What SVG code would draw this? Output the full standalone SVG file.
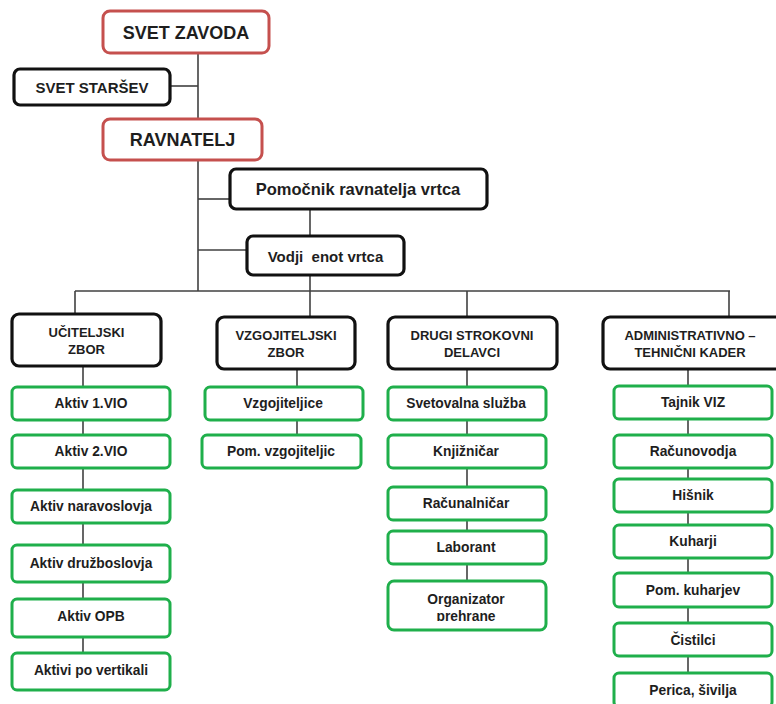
<svg xmlns="http://www.w3.org/2000/svg" width="776" height="704" viewBox="0 0 776 704">
<style>
text{font-family:"Liberation Sans",Arial,sans-serif;font-weight:bold;fill:#1e1e1e;text-anchor:middle}
.red{fill:#fff;stroke:#c5504e;stroke-width:3}
.blk{fill:#fff;stroke:#111;stroke-width:3.2}
.grn{fill:#fff;stroke:#1faf4b;stroke-width:3}
.t18{font-size:18px}
.t16{font-size:16.5px}
.t15{font-size:15px}
.t13{font-size:13px}
.g{font-size:13.8px}
#conn line{stroke:#404040;stroke-width:1.6}
</style>
<defs>
<clipPath id="clipOrg"><rect x="389" y="582" width="156" height="39"/></clipPath>
</defs>
<rect width="776" height="704" fill="#fff"/>
<g id="conn">
<line x1="198" y1="53" x2="198" y2="291"/>
<line x1="170" y1="86" x2="198" y2="86"/>
<line x1="198" y1="199" x2="230" y2="199"/>
<line x1="198" y1="250" x2="247" y2="250"/>
<line x1="310" y1="209" x2="310" y2="236"/>
<line x1="310" y1="275" x2="310" y2="291"/>
<line x1="75" y1="291" x2="730" y2="291"/>
<line x1="75" y1="291" x2="75" y2="314"/>
<line x1="310" y1="291" x2="310" y2="317"/>
<line x1="467" y1="291" x2="467" y2="317"/>
<line x1="729" y1="291" x2="729" y2="317"/>
<line x1="83" y1="366" x2="83" y2="652"/>
<line x1="297" y1="369" x2="297" y2="435"/>
<line x1="467" y1="369" x2="467" y2="581"/>
<line x1="688" y1="369" x2="688" y2="673"/>
</g>
<g id="svet-zavoda"><rect class="red" x="103" y="11" width="166" height="42" rx="7"/><text class="t18" x="186" y="38.5">SVET ZAVODA</text></g>
<g id="svet-starsev"><rect class="blk" x="14" y="69" width="156" height="36" rx="6"/><text class="t15" x="92" y="92.5">SVET STARŠEV</text></g>
<g id="ravnatelj"><rect class="red" x="103" y="119" width="159" height="41" rx="7"/><text class="t18" x="182.5" y="145.5">RAVNATELJ</text></g>
<g id="pomocnik"><rect class="blk" x="230" y="169" width="257" height="40" rx="6"/><text class="t16" x="358" y="195">Pomočnik ravnatelja vrtca</text></g>
<g id="vodji"><rect class="blk" x="247" y="236" width="157" height="39" rx="6"/><text class="t15" x="325.5" y="261.5" xml:space="preserve">Vodji  enot vrtca</text></g>
<g id="uciteljski"><rect class="blk" x="12" y="314" width="149" height="52" rx="7"/><text class="t13" x="86.5" y="336.5">UČITELJSKI</text><text class="t13" x="86.5" y="353.5">ZBOR</text></g>
<g id="vzgojiteljski"><rect class="blk" x="217" y="317" width="138" height="52" rx="7"/><text class="t13" x="286" y="339.5">VZGOJITELJSKI</text><text class="t13" x="286" y="356.5">ZBOR</text></g>
<g id="drugi"><rect class="blk" x="388" y="317" width="169" height="52" rx="7"/><text class="t13" x="472" y="339.5">DRUGI STROKOVNI</text><text class="t13" x="472" y="356.5">DELAVCI</text></g>
<g id="administrativno"><rect class="blk" x="603" y="317" width="180" height="52" rx="7"/><text class="t13" x="690" y="339.5">ADMINISTRATIVNO –</text><text class="t13" x="690" y="356.5">TEHNIČNI KADER</text></g>
<g id="aktiv1"><rect class="grn" x="12" y="387" width="158" height="33" rx="5"/><text class="g" x="91" y="408">Aktiv 1.VIO</text></g>
<g id="aktiv2"><rect class="grn" x="12" y="435" width="158" height="33" rx="5"/><text class="g" x="91" y="456">Aktiv 2.VIO</text></g>
<g id="aktiv-nar"><rect class="grn" x="12" y="490" width="158" height="33" rx="5"/><text class="g" x="91" y="511">Aktiv naravoslovja</text></g>
<g id="aktiv-druz"><rect class="grn" x="12" y="545" width="158" height="37" rx="5"/><text class="g" x="91" y="568">Aktiv družboslovja</text></g>
<g id="aktiv-opb"><rect class="grn" x="12" y="599" width="158" height="38" rx="5"/><text class="g" x="91" y="621">Aktiv OPB</text></g>
<g id="aktivi-vert"><rect class="grn" x="12" y="653" width="158" height="37" rx="5"/><text class="g" x="91" y="675">Aktivi po vertikali</text></g>
<g id="vzgojiteljice"><rect class="grn" x="205" y="387" width="158" height="33" rx="5"/><text class="g" x="283" y="408">Vzgojiteljice</text></g>
<g id="pom-vzg"><rect class="grn" x="202" y="435" width="159" height="33" rx="5"/><text class="g" x="281" y="456">Pom. vzgojiteljic</text></g>
<g id="svetovalna"><rect class="grn" x="388" y="387" width="158" height="33" rx="5"/><text class="g" x="466" y="408">Svetovalna služba</text></g>
<g id="knjiznicar"><rect class="grn" x="388" y="435" width="158" height="33" rx="5"/><text class="g" x="466" y="456">Knjižničar</text></g>
<g id="racunalnicar"><rect class="grn" x="388" y="487" width="158" height="33" rx="5"/><text class="g" x="466" y="508">Računalničar</text></g>
<g id="laborant"><rect class="grn" x="388" y="531" width="158" height="33" rx="5"/><text class="g" x="466" y="552">Laborant</text></g>
<g id="organizator"><rect class="grn" x="388" y="581" width="158" height="49" rx="6"/><g clip-path="url(#clipOrg)"><text class="g" x="466" y="604">Organizator</text><text class="g" x="466" y="621">prehrane</text></g></g>
<g id="tajnik"><rect class="grn" x="614" y="386" width="158" height="33" rx="5"/><text class="g" x="693" y="407">Tajnik VIZ</text></g>
<g id="racunovodja"><rect class="grn" x="614" y="435" width="158" height="33" rx="5"/><text class="g" x="693" y="456">Računovodja</text></g>
<g id="hisnik"><rect class="grn" x="614" y="479" width="158" height="33" rx="5"/><text class="g" x="693" y="500">Hišnik</text></g>
<g id="kuharji"><rect class="grn" x="614" y="525" width="158" height="33" rx="5"/><text class="g" x="693" y="546">Kuharji</text></g>
<g id="pom-kuharjev"><rect class="grn" x="614" y="573" width="158" height="34" rx="5"/><text class="g" x="693" y="595">Pom. kuharjev</text></g>
<g id="cistilci"><rect class="grn" x="614" y="623" width="158" height="33" rx="5"/><text class="g" x="693" y="645">Čistilci</text></g>
<g id="perica"><rect class="grn" x="614" y="673" width="158" height="34" rx="5"/><text class="g" x="693" y="695">Perica, šivilja</text></g>
</svg>
